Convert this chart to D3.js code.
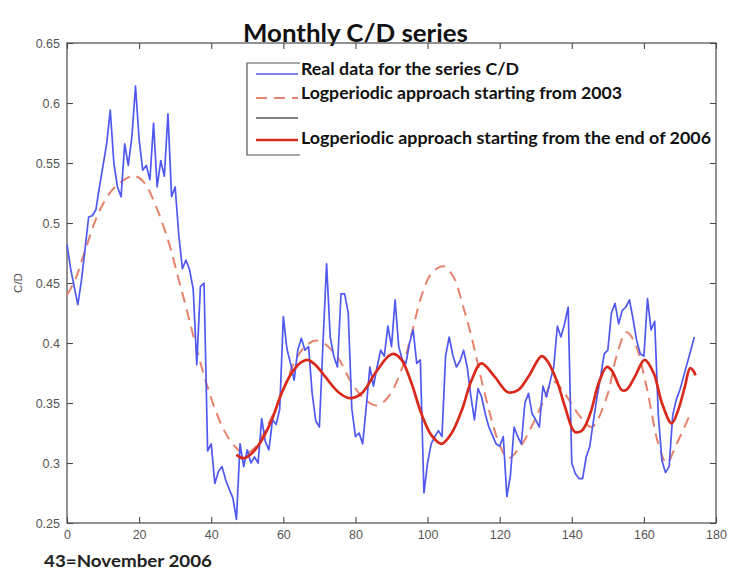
<!DOCTYPE html>
<html>
<head>
<meta charset="utf-8">
<script src="https://cdn.jsdelivr.net/npm/d3@7"></script>
<style>
  html, body { margin: 0; padding: 0; background: #fff; }
  svg { display: block; }
</style>
</head>
<body>
<svg id="chart" width="731" height="571"></svg>
<script>
// Monthly C/D ratio, one value per month (month index 0..174)
const realMonths = d3.range(0, 175);
const realValues = [
  0.482,0.462,0.447,0.432,0.452,0.478,0.505,0.506,0.511,0.530,
  0.548,0.566,0.594,0.550,0.530,0.522,0.566,0.548,0.572,0.614,
  0.570,0.544,0.548,0.536,0.583,0.530,0.552,0.539,0.591,0.522,
  0.530,0.490,0.462,0.469,0.461,0.445,0.382,0.447,0.450,0.310,
  0.316,0.283,0.293,0.297,0.286,0.278,0.271,0.253,0.316,0.297,
  0.311,0.300,0.305,0.300,0.337,0.318,0.311,0.336,0.332,0.345,
  0.422,0.395,0.383,0.369,0.394,0.404,0.394,0.397,0.358,0.335,
  0.330,0.400,0.466,0.405,0.389,0.380,0.441,0.441,0.425,0.345,
  0.322,0.325,0.316,0.347,0.380,0.364,0.380,0.394,0.389,0.414,
  0.397,0.436,0.397,0.386,0.383,0.400,0.411,0.383,0.386,0.275,
  0.300,0.316,0.322,0.327,0.322,0.389,0.405,0.390,0.380,0.385,
  0.394,0.380,0.356,0.336,0.362,0.355,0.341,0.330,0.323,0.316,
  0.314,0.322,0.272,0.290,0.330,0.322,0.316,0.350,0.358,0.341,
  0.336,0.330,0.364,0.355,0.368,0.380,0.414,0.405,0.416,0.430,
  0.300,0.291,0.287,0.287,0.305,0.314,0.335,0.355,0.372,0.391,
  0.394,0.425,0.433,0.416,0.427,0.430,0.436,0.420,0.402,0.391,
  0.389,0.437,0.411,0.418,0.340,0.302,0.292,0.297,0.340,0.353,
  0.361,0.372,0.383,0.394,0.405
];

// Log-periodic fit starting from 2003
const fit2003Months = [0,2.3,5,8.7,12.4,17,19,21.6,24.4,28,30.8,33,35.3,38.1,40.8,43.6,46.5,49.3,52.2,54.9,57.7,
  60.4,63.2,66.0,68.9,71.6,75.3,78.9,82.6,85.9,89.1,92.8,95.6,98.3,101.1,104.4,107.2,109.9,112.2,114.5,117.3,
  120.0,122.3,125.6,129.3,132.2,134.9,138.5,142.2,145.5,149.7,152.4,155.2,157.5,160.7,164.0,166.3,169.1,173.2];
const fit2003Values = [0.440,0.453,0.477,0.508,0.527,0.538,0.539,0.533,0.516,0.486,0.455,0.430,0.403,0.372,0.347,0.327,0.314,0.308,0.313,0.327,0.344,
  0.364,0.385,0.397,0.402,0.399,0.387,0.367,0.353,0.348,0.355,0.378,0.408,0.439,0.458,0.464,0.455,0.430,0.405,0.375,0.341,
  0.315,0.304,0.313,0.333,0.352,0.368,0.356,0.339,0.330,0.355,0.389,0.409,0.400,0.364,0.316,0.300,0.316,0.343];

// Log-periodic fit starting from the end of 2006
const fit2006Months = [47.0,48.9,51.2,54.0,56.8,59.5,62.3,65.0,66.7,68.8,71.6,75.3,78.4,81.7,85.5,89.1,90.5,92.8,95.6,98.3,
  101.1,103.9,106.7,109.5,112.2,114.9,118.6,122.3,125.2,128.0,131.6,133.0,135.8,138.1,140.8,142.8,145.1,147.4,149.7,151.1,
  153.8,155.2,157.5,160.2,162.7,165.0,167.7,169.5,171.4,172.8,173.7,174.3];
const fit2006Values = [0.307,0.304,0.308,0.319,0.336,0.358,0.375,0.384,0.386,0.382,0.372,0.359,0.354,0.358,0.375,0.389,0.391,0.386,0.366,0.341,
  0.323,0.316,0.325,0.344,0.369,0.383,0.372,0.359,0.361,0.372,0.389,0.386,0.369,0.347,0.326,0.327,0.341,0.366,0.380,0.377,
  0.361,0.361,0.372,0.386,0.375,0.350,0.333,0.344,0.364,0.379,0.377,0.373];

const xTicks = [0,20,40,60,80,100,120,140,160,180];
const yTicks = [0.25,0.3,0.35,0.4,0.45,0.5,0.55,0.6,0.65];

const legendLabels = [
  "Real data for the series C/D",
  "Logperiodic approach starting from 2003",
  "",
  "Logperiodic approach starting from the end of 2006"
];

const svg = d3.select("#chart");
const L = 67, R = 716, T = 43, B = 523;
const x = d3.scaleLinear().domain([0, 180]).range([L, R]);
const y = d3.scaleLinear().domain([0.25, 0.65]).range([B, T]);

const axisColor = "#4a4a4a";
const labelFont = "'Liberation Sans', Arial, sans-serif";
const boldFont = "Lato, 'Open Sans', sans-serif";

// Title
svg.append("text")
  .attr("x", 243).attr("y", 42)
  .attr("textLength", 225).attr("lengthAdjust", "spacingAndGlyphs")
  .style("font-family", boldFont).style("font-weight", 700).style("font-size", "25px")
  .attr("fill", "#111")
  .text("Monthly C/D series");

// Plot frame
svg.append("rect")
  .attr("x", L).attr("y", T).attr("width", R - L).attr("height", B - T)
  .attr("fill", "none").attr("stroke", axisColor).attr("stroke-width", 1.2);

function styleAxis(g, showText) {
  g.select(".domain").remove();
  g.selectAll(".tick line").attr("stroke", axisColor).attr("stroke-width", 1.1);
  g.selectAll(".tick text")
    .attr("fill", "#555")
    .style("font-family", labelFont)
    .style("font-size", "12.5px");
  if (!showText) g.selectAll(".tick text").remove();
}

svg.append("g").attr("transform", `translate(0,${B})`)
  .call(d3.axisBottom(x).tickValues(xTicks).tickSizeInner(-6).tickSizeOuter(0).tickPadding(7).tickFormat(d3.format("d")))
  .call(g => styleAxis(g, true));
svg.append("g").attr("transform", `translate(0,${T})`)
  .call(d3.axisTop(x).tickValues(xTicks).tickSizeInner(-6).tickSizeOuter(0))
  .call(g => styleAxis(g, false));
svg.append("g").attr("transform", `translate(${L},0)`)
  .call(d3.axisLeft(y).tickValues(yTicks).tickSizeInner(-6).tickSizeOuter(0).tickPadding(7).tickFormat(d => String(+d.toFixed(2))))
  .call(g => styleAxis(g, true));
svg.append("g").attr("transform", `translate(${R},0)`)
  .call(d3.axisRight(y).tickValues(yTicks).tickSizeInner(-6).tickSizeOuter(0))
  .call(g => styleAxis(g, false));

// Y axis title
svg.append("text")
  .attr("transform", `translate(22,${y(0.45)}) rotate(-90)`)
  .attr("text-anchor", "middle")
  .style("font-family", labelFont).style("font-size", "11.5px")
  .attr("fill", "#555")
  .text("C/D");

// Series
const lineGen = d3.line().x(d => x(d[0])).y(d => y(d[1]));
const smoothGen = d3.line().x(d => x(d[0])).y(d => y(d[1])).curve(d3.curveCatmullRom.alpha(0.5));

const plot = svg.append("g");
plot.append("path")
  .datum(d3.zip(fit2003Months, fit2003Values))
  .attr("d", smoothGen)
  .attr("fill", "none").attr("stroke", "#e5836c").attr("stroke-width", 2)
  .attr("stroke-dasharray", "11,7");

plot.append("path")
  .datum(d3.zip(realMonths, realValues))
  .attr("d", lineGen)
  .attr("fill", "none").attr("stroke", "#5059ef").attr("stroke-width", 1.7)
  .attr("stroke-linejoin", "round");

plot.append("path")
  .datum(d3.zip(fit2006Months, fit2006Values))
  .attr("d", smoothGen)
  .attr("fill", "none").attr("stroke", "#d8291b").attr("stroke-width", 2.7);

// Legend
const legend = svg.append("g");
legend.append("path")
  .attr("d", "M300,63 H247 V155 H300")
  .attr("fill", "none").attr("stroke", "#555").attr("stroke-width", 1.2);

const legendRows = [
  { y: 74,  stroke: "#5059ef", width: 1.7, dash: null,   textY: 75,  len: 218 },
  { y: 98,  stroke: "#e5836c", width: 2,   dash: "11,7", textY: 99,  len: 321 },
  { y: 118, stroke: "#555",    width: 1.3, dash: null,   textY: 121, len: 0 },
  { y: 140, stroke: "#d8291b", width: 2.7, dash: null,   textY: 144, len: 410 }
];
legendRows.forEach((r, i) => {
  legend.append("line")
    .attr("x1", 256).attr("x2", 298).attr("y1", r.y).attr("y2", r.y)
    .attr("stroke", r.stroke).attr("stroke-width", r.width)
    .attr("stroke-dasharray", r.dash);
  if (legendLabels[i]) {
    legend.append("text")
      .attr("x", 301).attr("y", r.textY)
      .attr("textLength", r.len).attr("lengthAdjust", "spacingAndGlyphs")
      .style("font-family", boldFont).style("font-weight", 700).style("font-size", "17px")
      .attr("fill", "#111")
      .text(legendLabels[i]);
  }
});

// Note under the axis
svg.append("text")
  .attr("x", 44).attr("y", 567)
  .attr("textLength", 168).attr("lengthAdjust", "spacingAndGlyphs")
  .style("font-family", boldFont).style("font-weight", 700).style("font-size", "17px")
  .attr("fill", "#222")
  .text("43=November 2006");
</script>
</body>
</html>
